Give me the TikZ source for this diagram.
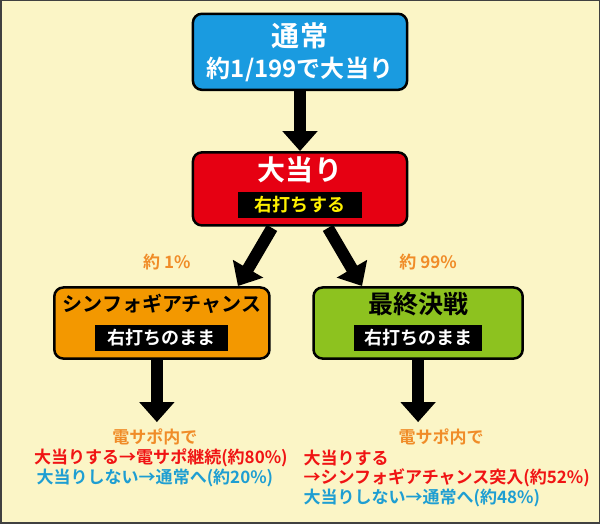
\documentclass[tikz,border=0pt]{standalone}
\usepackage{fontspec}
\newfontfamily\jp{Noto Sans CJK JP}[BoldFont=* Bold]
\usetikzlibrary{arrows.meta}
\definecolor{bg}{HTML}{FBF5C6}
\definecolor{cblue}{HTML}{1A9BE0}
\definecolor{cred}{HTML}{E60012}
\definecolor{corange}{HTML}{F39800}
\definecolor{cgreen}{HTML}{8DC21F}
\definecolor{tor}{HTML}{F08C28}
\definecolor{tred}{HTML}{F01414}
\definecolor{tblue}{HTML}{1E9ED2}
\tikzset{
 box/.style={draw=black,line width=2.5pt,rounded corners=9pt},
 tag/.style={fill=black,inner sep=2pt,minimum height=26pt,font=\jp\bfseries\fontsize{18}{20}\selectfont},
 title/.style={font=\jp\bfseries\fontsize{28}{30}\selectfont,text=white},
 arr/.style={line width=12pt,-{Triangle[width=34pt,length=20pt]}},
 lab/.style={font=\jp\bfseries\fontsize{17}{20}\selectfont},
}
\begin{document}
\begin{tikzpicture}[x=1pt,y=-1pt]
\fill[bg,draw=black!75,line width=1.5pt] (1,1) rectangle (599,523);
\node[box,fill=cblue,minimum width=214pt,minimum height=76pt] (n) at (300,52) {};
\node[title] at (300,36) {通常};
\node[title,font=\jp\bfseries\fontsize{24}{26}\selectfont] at (300,70) {約1/199で大当り};
\node[box,fill=cred,minimum width=214pt,minimum height=73pt] (h) at (300,189) {};
\node[title] at (300,170) {大当り};
\node[tag,text=yellow,minimum width=123pt] at (300,205) {右打ちする};
\node[box,fill=corange,minimum width=215pt,minimum height=71pt] (s) at (162,323) {};
\node[title,font=\jp\bfseries\fontsize{20}{24}\selectfont,text=black] at (162,304) {シンフォギアチャンス};
\node[tag,text=white,minimum width=133pt] at (162,338) {右打ちのまま};
\node[box,fill=cgreen,minimum width=209pt,minimum height=71pt] (g) at (418,323) {};
\node[title,font=\jp\bfseries\fontsize{25}{28}\selectfont,text=black] at (418,304) {最終決戦};
\node[tag,text=white,minimum width=128pt] at (418,338) {右打ちのまま};
\coordinate (sb) at (157,422);
\coordinate (gb) at (418,422);
\draw[arr] (n.south) -- (h.north);
\draw[arr] (272,228) -- (238,286);
\draw[arr] (328,228) -- (362,286);
\draw[arr] (157,359) -- (sb);
\draw[arr] (418,359) -- (gb);
\node[lab,text=tor] at (167,262) {約 1\%};
\node[lab,text=tor] at (428,262) {約 99\%};
\node[lab,text=tor] at (155,437) {電サポ内で};
\node[lab,text=tred] at (161,458) {大当りする→電サポ継続(約80\%)};
\node[lab,text=tblue] at (155,478) {大当りしない→通常へ(約20\%)};
\node[lab,text=tor] at (441,437) {電サポ内で};
\node[lab,text=tred,anchor=west] at (300,458) {大当りする};
\node[lab,text=tred,anchor=west] at (300,478) {→シンフォギアチャンス突入(約52\%)};
\node[lab,text=tblue,anchor=west] at (300,498) {大当りしない→通常へ(約48\%)};
\end{tikzpicture}
\end{document}
